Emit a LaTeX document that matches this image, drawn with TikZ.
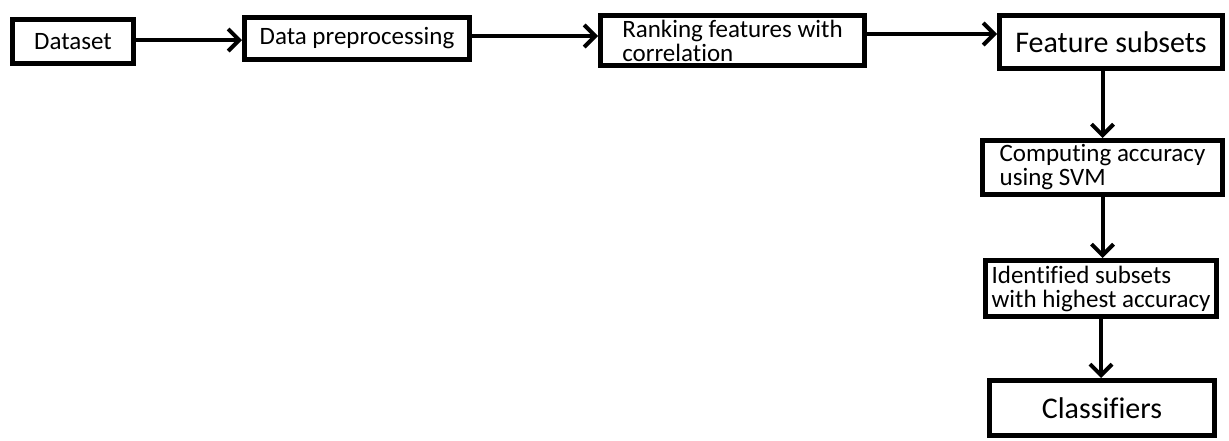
\documentclass[tikz,border=0pt]{standalone}
\usepackage{fontspec}
\setmainfont{Carlito}[Ligatures=NoCommon]
\usepackage{tikz}
\usetikzlibrary{arrows.meta, positioning, calc}

\begin{document}
\begin{tikzpicture}
  [
    x=1pt, y=-1pt,
    Box/.style={rectangle, draw=black, line width=5pt, fill=white, align=left, inner sep=1pt, font=\fontsize{25}{24}\selectfont},
    BigBox/.style={Box, font=\fontsize{30}{30}\selectfont},
    Link/.style={-{Straight Barb[length=11pt, width=22pt]}, draw, line width=4pt}
  ]
  \useasboundingbox (0,0) rectangle (1229,440);
  % Nodes
  \node[Box, minimum width=121pt, minimum height=44pt] (data) at (73, 41.5) {Dataset};
  \node[Box, minimum width=225pt, minimum height=42pt] (prep) at (357, 38.5) {Data preprocessing};
  \node[Box, minimum width=264pt, minimum height=50pt] (rank) at (732.5, 40.5) {Ranking features with\\correlation};
  \node[BigBox, minimum width=223pt, minimum height=53pt] (fsub) at (1111, 42) {Feature subsets};
  \node[Box, minimum width=240pt, minimum height=54pt] (comp) at (1102.5, 167.5) {Computing accuracy\\using SVM};
  \node[Box, minimum width=231pt, minimum height=56pt] (ident) at (1101, 288.5) {Identified subsets\\with highest accuracy};
  \node[BigBox, minimum width=225pt, minimum height=55pt] (clas) at (1102, 408) {Classifiers};
  % Lines
  \path [Link] ([yshift=1.5pt]data.east) -- ([yshift=1.5pt]data.east -| prep.west);
  \path [Link] ([yshift=2.5pt]prep.east) -- ([yshift=2.5pt]prep.east -| rank.west);
  \path [Link] ([yshift=6.5pt]rank.east) -- ([yshift=6.5pt]rank.east -| fsub.west);
  \path [Link] (fsub.south -| comp.north) -- (comp.north);
  \path [Link] (comp.south) -- (comp.south |- ident.north);
  \path [Link] (ident.south) -- (ident.south |- clas.north);
\end{tikzpicture}
\end{document}
